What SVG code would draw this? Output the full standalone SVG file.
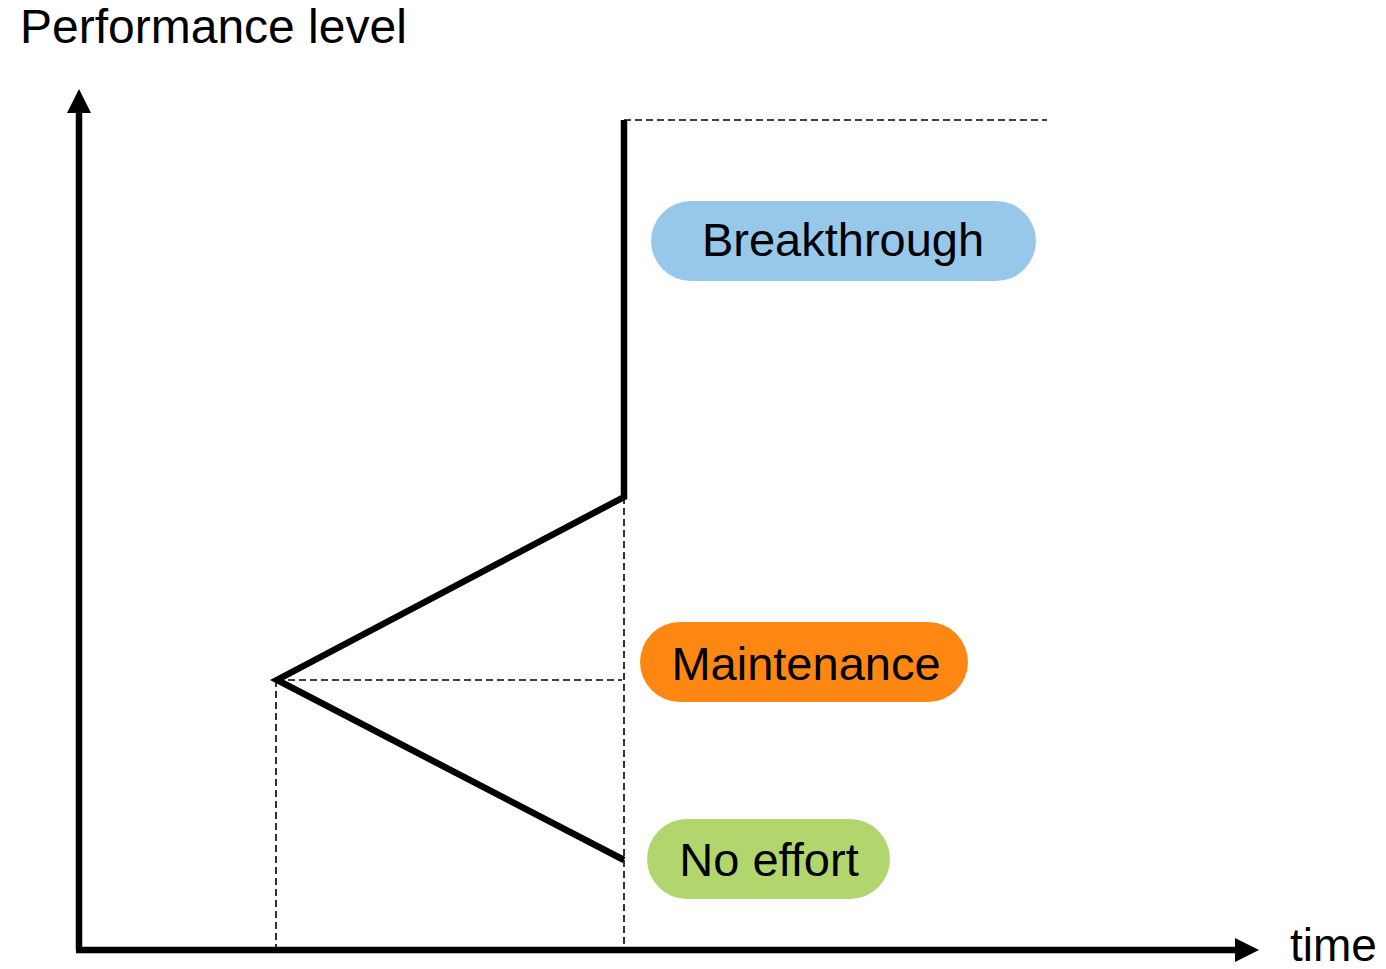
<svg xmlns="http://www.w3.org/2000/svg" width="1386" height="969" viewBox="0 0 1386 969">
<style>
text{font-family:"Liberation Sans",Arial,sans-serif;font-size:47px;fill:#000}
.thick{stroke:#000;stroke-width:6.5;fill:none}
.dash{stroke:#000;stroke-width:1.6;stroke-dasharray:7 4;fill:none}
.lbl{text-anchor:middle}
</style>
<defs>
<marker id="ah" markerWidth="24" markerHeight="24" refX="0" refY="12" orient="auto" markerUnits="userSpaceOnUse" viewBox="0 0 24 24">
<path d="M0,0 L24,12 L0,24 Z" fill="#000"/>
</marker>
</defs>
<rect width="1386" height="969" fill="#fff"/>
<g id="axes">
<path class="thick" d="M79,950 L79,113" marker-end="url(#ah)"/>
<path class="thick" d="M76,950 L1235,950" marker-end="url(#ah)"/>
<text x="20" y="43" style="font-size:48px">Performance level</text>
<text x="1290" y="961" style="font-size:46px">time</text>
</g>
<g id="connectors">
<path class="dash" d="M624,120 L1047,120"/>
<path class="dash" d="M624,497 L624,948"/>
<path class="dash" d="M276,680 L276,948"/>
<path class="dash" d="M277,680 L622,680"/>
<path class="thick" d="M624,120 L624,497 L277,680 L624,860" stroke-linejoin="miter"/>
</g>
<g id="breakthrough">
<rect x="651" y="201" width="385" height="80" rx="40" fill="#97C8EA"/>
<text class="lbl" x="843" y="256">Breakthrough</text>
</g>
<g id="maintenance">
<rect x="640" y="622" width="328" height="80" rx="40" fill="#FE8713"/>
<text class="lbl" x="806" y="680">Maintenance</text>
</g>
<g id="no-effort">
<rect x="647" y="819" width="243" height="80" rx="40" fill="#B1D66D"/>
<text class="lbl" x="769" y="876">No effort</text>
</g>
</svg>
